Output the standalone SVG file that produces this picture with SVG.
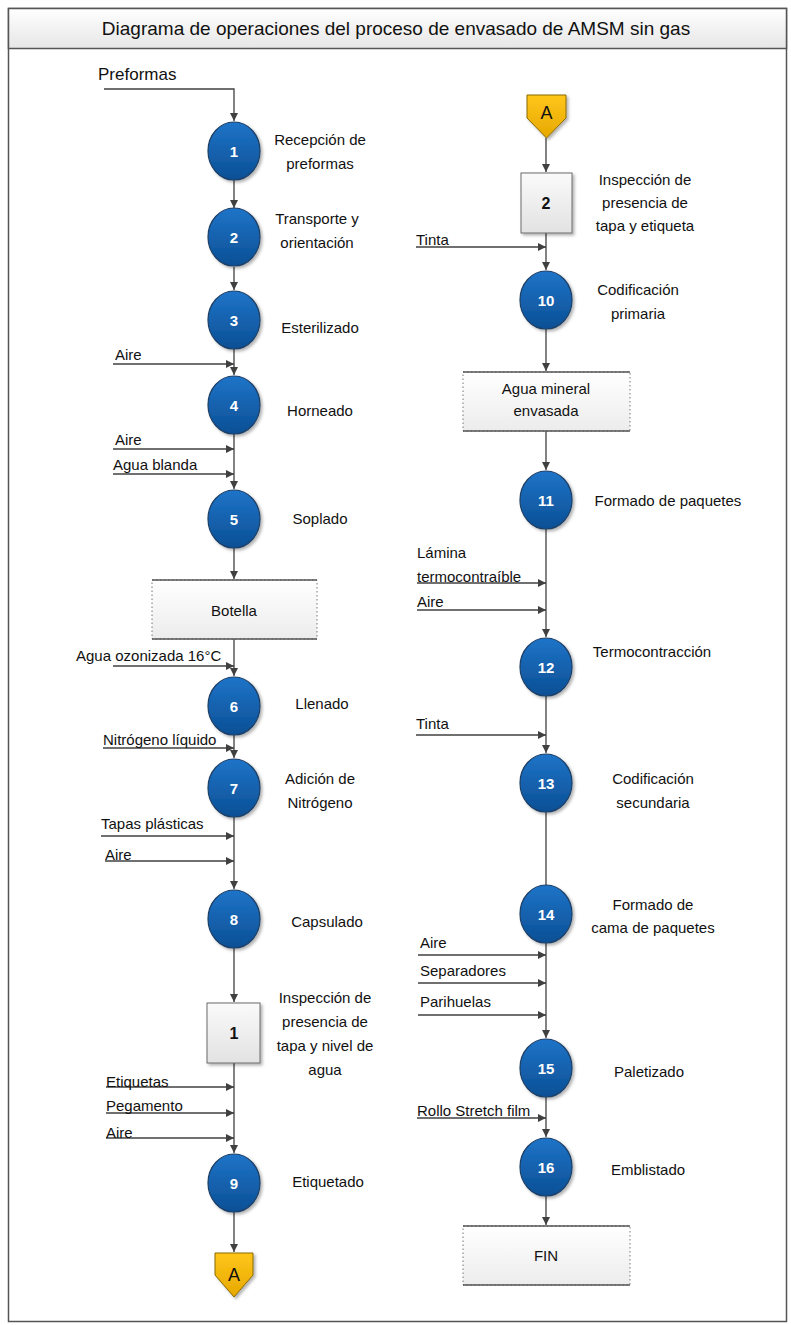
<svg xmlns="http://www.w3.org/2000/svg" width="791" height="1325" viewBox="0 0 791 1325">
<style>
  text { font-family: "Liberation Sans", Arial, sans-serif; fill: #111; }
  .lbl { font-size: 15px; text-anchor: middle; }
  .in { font-size: 15px; }
  .num { font-size: 15px; font-weight: bold; fill: #fff; text-anchor: middle; }
  .inum { font-size: 16px; font-weight: bold; text-anchor: middle; }
  .ln { stroke: #404040; stroke-width: 1.3; fill: none; }
  .arr { marker-end: url(#ah); }
  .op { fill: url(#blue); stroke: #1c3f66; stroke-width: 1.2; filter: url(#sh); }
  .insp { fill: url(#grey); stroke: #6a6a6a; stroke-width: 1; filter: url(#sh); }
  .data { fill: url(#grey2); stroke: #777; stroke-width: 1; stroke-dasharray: 1.5 2.5; }
  .edge { stroke: #555; stroke-width: 1.3; }
  .conn { fill: url(#gold); stroke: #8a6a00; stroke-width: 1; filter: url(#sh); }
</style>
<defs>
  <marker id="ah" viewBox="0 0 10 10" refX="10" refY="5" markerWidth="8" markerHeight="8" markerUnits="userSpaceOnUse" orient="auto">
    <path d="M0,0 L10,5 L0,10 z" fill="#404040"/>
  </marker>
  <linearGradient id="blue" x1="0" y1="0" x2="0" y2="1">
    <stop offset="0" stop-color="#1f74c8"/>
    <stop offset="1" stop-color="#0b4f95"/>
  </linearGradient>
  <linearGradient id="grey" x1="0" y1="0" x2="0" y2="1">
    <stop offset="0" stop-color="#fafafa"/>
    <stop offset="1" stop-color="#e2e2e2"/>
  </linearGradient>
  <linearGradient id="grey2" x1="0" y1="0" x2="0" y2="1">
    <stop offset="0" stop-color="#ffffff"/>
    <stop offset="1" stop-color="#ececec"/>
  </linearGradient>
  <linearGradient id="gold" x1="0" y1="0" x2="0" y2="1">
    <stop offset="0" stop-color="#ffc61a"/>
    <stop offset="1" stop-color="#e6a800"/>
  </linearGradient>
  <linearGradient id="title" x1="0" y1="0" x2="0" y2="1">
    <stop offset="0" stop-color="#ffffff"/>
    <stop offset="1" stop-color="#e6e6e6"/>
  </linearGradient>
  <filter id="sh" x="-20%" y="-20%" width="150%" height="150%">
    <feDropShadow dx="2" dy="2" stdDeviation="1.5" flood-color="#000" flood-opacity="0.3"/>
  </filter>
</defs>

<!-- page frame and title -->
<rect x="0" y="0" width="791" height="1325" fill="#fff"/>
<rect x="8.5" y="8.5" width="778" height="1313" fill="#fff" stroke="#555" stroke-width="1.5"/>
<rect x="8.5" y="8.5" width="778" height="40" fill="url(#title)" stroke="#555" stroke-width="1.5"/>
<text x="396" y="35" text-anchor="middle" font-size="19">Diagrama de operaciones del proceso de envasado de AMSM sin gas</text>

<!-- connectors -->
<g id="connectors">
  <path class="ln arr" d="M104,89 H234 V121"/>
  <line class="ln arr" x1="234" y1="180" x2="234" y2="208"/>
  <line class="ln arr" x1="234" y1="267" x2="234" y2="290"/>
  <line class="ln arr" x1="234" y1="349" x2="234" y2="375"/>
  <line class="ln arr" x1="234" y1="434" x2="234" y2="489"/>
  <line class="ln arr" x1="234" y1="548" x2="234" y2="579"/>
  <line class="ln arr" x1="234" y1="639" x2="234" y2="676"/>
  <line class="ln arr" x1="234" y1="735" x2="234" y2="758"/>
  <line class="ln arr" x1="234" y1="817" x2="234" y2="889"/>
  <line class="ln arr" x1="234" y1="948" x2="234" y2="1002"/>
  <line class="ln arr" x1="234" y1="1063" x2="234" y2="1153"/>
  <line class="ln arr" x1="234" y1="1212" x2="234" y2="1252"/>
  <line class="ln arr" x1="113" y1="364" x2="234" y2="364"/>
  <line class="ln arr" x1="113" y1="449" x2="234" y2="449"/>
  <line class="ln arr" x1="113" y1="474" x2="234" y2="474"/>
  <line class="ln arr" x1="113" y1="666" x2="234" y2="666"/>
  <line class="ln arr" x1="103" y1="748" x2="234" y2="748"/>
  <line class="ln arr" x1="101" y1="836" x2="234" y2="836"/>
  <line class="ln arr" x1="105" y1="861" x2="234" y2="861"/>
  <line class="ln arr" x1="106" y1="1087" x2="234" y2="1087"/>
  <line class="ln arr" x1="106" y1="1113" x2="234" y2="1113"/>
  <line class="ln arr" x1="106" y1="1138" x2="234" y2="1138"/>

  <line class="ln arr" x1="546" y1="138" x2="546" y2="172"/>
  <line class="ln arr" x1="546" y1="233" x2="546" y2="270"/>
  <line class="ln arr" x1="546" y1="329" x2="546" y2="371"/>
  <line class="ln arr" x1="546" y1="431" x2="546" y2="470"/>
  <line class="ln arr" x1="546" y1="529" x2="546" y2="637"/>
  <line class="ln arr" x1="546" y1="696" x2="546" y2="753"/>
  <line class="ln" x1="546" y1="812" x2="546" y2="885"/>
  <line class="ln arr" x1="546" y1="943" x2="546" y2="1038"/>
  <line class="ln arr" x1="546" y1="1097" x2="546" y2="1137"/>
  <line class="ln arr" x1="546" y1="1196" x2="546" y2="1225"/>
  <line class="ln arr" x1="416" y1="247" x2="546" y2="247"/>
  <line class="ln arr" x1="417" y1="583" x2="546" y2="583"/>
  <line class="ln arr" x1="417" y1="610" x2="546" y2="610"/>
  <line class="ln arr" x1="416" y1="735" x2="546" y2="735"/>
  <line class="ln arr" x1="418" y1="955" x2="546" y2="955"/>
  <line class="ln arr" x1="418" y1="983" x2="546" y2="983"/>
  <line class="ln arr" x1="418" y1="1015" x2="546" y2="1015"/>
  <line class="ln arr" x1="417" y1="1118" x2="546" y2="1118"/>
</g>

<!-- input labels -->
<g id="inputs">
  <text x="98" y="80" font-size="17">Preformas</text>
  <text class="in" x="115" y="360">Aire</text>
  <text class="in" x="115" y="445">Aire</text>
  <text class="in" x="113" y="470">Agua blanda</text>
  <text class="in" x="76" y="661">Agua ozonizada 16°C</text>
  <text class="in" x="103" y="745">Nitrógeno líquido</text>
  <text class="in" x="101" y="829">Tapas plásticas</text>
  <text class="in" x="105" y="860">Aire</text>
  <text class="in" x="106" y="1087">Etiquetas</text>
  <text class="in" x="106" y="1111">Pegamento</text>
  <text class="in" x="106" y="1138">Aire</text>
  <text class="in" x="416" y="245">Tinta</text>
  <text class="in" x="417" y="558">Lámina</text>
  <text class="in" x="417" y="582">termocontraíble</text>
  <text class="in" x="417" y="607">Aire</text>
  <text class="in" x="416" y="729">Tinta</text>
  <text class="in" x="420" y="948">Aire</text>
  <text class="in" x="420" y="976">Separadores</text>
  <text class="in" x="420" y="1007">Parihuelas</text>
  <text class="in" x="417" y="1116">Rollo Stretch film</text>
</g>

<!-- left column operations -->
<g id="op1"><ellipse class="op" cx="234" cy="151" rx="26" ry="29"/><text class="num" x="234" y="157">1</text>
  <text class="lbl" x="320" y="145">Recepción de</text><text class="lbl" x="320" y="169">preformas</text></g>
<g id="op2"><ellipse class="op" cx="234" cy="237" rx="26" ry="29"/><text class="num" x="234" y="243">2</text>
  <text class="lbl" x="317" y="224">Transporte y</text><text class="lbl" x="317" y="248">orientación</text></g>
<g id="op3"><ellipse class="op" cx="234" cy="320" rx="26" ry="29"/><text class="num" x="234" y="326">3</text>
  <text class="lbl" x="320" y="333">Esterilizado</text></g>
<g id="op4"><ellipse class="op" cx="234" cy="405" rx="26" ry="29"/><text class="num" x="234" y="411">4</text>
  <text class="lbl" x="320" y="416">Horneado</text></g>
<g id="op5"><ellipse class="op" cx="234" cy="519" rx="26" ry="29"/><text class="num" x="234" y="525">5</text>
  <text class="lbl" x="320" y="524">Soplado</text></g>
<g id="botella"><rect class="data" x="152" y="580" width="165" height="59"/>
  <line class="edge" x1="152" y1="580" x2="317" y2="580"/><line class="edge" x1="152" y1="639" x2="317" y2="639"/>
  <text class="lbl" x="234" y="616">Botella</text></g>
<g id="op6"><ellipse class="op" cx="234" cy="706" rx="26" ry="29"/><text class="num" x="234" y="712">6</text>
  <text class="lbl" x="322" y="709">Llenado</text></g>
<g id="op7"><ellipse class="op" cx="234" cy="788" rx="26" ry="29"/><text class="num" x="234" y="794">7</text>
  <text class="lbl" x="320" y="784">Adición de</text><text class="lbl" x="320" y="808">Nitrógeno</text></g>
<g id="op8"><ellipse class="op" cx="234" cy="919" rx="26" ry="29"/><text class="num" x="234" y="925">8</text>
  <text class="lbl" x="327" y="927">Capsulado</text></g>
<g id="insp1"><rect class="insp" x="207" y="1003" width="53" height="60"/><text class="inum" x="234" y="1039">1</text>
  <text class="lbl" x="325" y="1003">Inspección de</text><text class="lbl" x="325" y="1027">presencia de</text>
  <text class="lbl" x="325" y="1051">tapa y nivel de</text><text class="lbl" x="325" y="1075">agua</text></g>
<g id="op9"><ellipse class="op" cx="234" cy="1183" rx="26" ry="29"/><text class="num" x="234" y="1189">9</text>
  <text class="lbl" x="328" y="1187">Etiquetado</text></g>
<g id="connA1"><path class="conn" d="M215,1253 H253 V1275 L234,1297 L215,1275 Z"/><text x="234" y="1281" font-size="18" text-anchor="middle">A</text></g>

<!-- right column operations -->
<g id="connA2"><path class="conn" d="M527,95 H566 V118 L546.5,138 L527,118 Z"/><text x="546.5" y="119" font-size="18" text-anchor="middle">A</text></g>
<g id="insp2"><rect class="insp" x="521" y="173" width="51" height="60"/><text class="inum" x="546" y="209">2</text>
  <text class="lbl" x="645" y="185">Inspección de</text><text class="lbl" x="645" y="208">presencia de</text>
  <text class="lbl" x="645" y="231">tapa y etiqueta</text></g>
<g id="op10"><ellipse class="op" cx="546" cy="300" rx="26" ry="29"/><text class="num" x="546" y="306">10</text>
  <text class="lbl" x="638" y="295">Codificación</text><text class="lbl" x="638" y="319">primaria</text></g>
<g id="agua"><rect class="data" x="463" y="372" width="167" height="59"/>
  <line class="edge" x1="463" y1="372" x2="630" y2="372"/><line class="edge" x1="463" y1="431" x2="630" y2="431"/>
  <text class="lbl" x="546" y="394">Agua mineral</text><text class="lbl" x="546" y="416">envasada</text></g>
<g id="op11"><ellipse class="op" cx="546" cy="500" rx="26" ry="29"/><text class="num" x="546" y="506">11</text>
  <text class="lbl" x="668" y="506">Formado de paquetes</text></g>
<g id="op12"><ellipse class="op" cx="546" cy="667" rx="26" ry="29"/><text class="num" x="546" y="673">12</text>
  <text class="lbl" x="652" y="657">Termocontracción</text></g>
<g id="op13"><ellipse class="op" cx="546" cy="783" rx="26" ry="29"/><text class="num" x="546" y="789">13</text>
  <text class="lbl" x="653" y="784">Codificación</text><text class="lbl" x="653" y="808">secundaria</text></g>
<g id="op14"><ellipse class="op" cx="546" cy="914" rx="26" ry="29"/><text class="num" x="546" y="920">14</text>
  <text class="lbl" x="653" y="910">Formado de</text><text class="lbl" x="653" y="933">cama de paquetes</text></g>
<g id="op15"><ellipse class="op" cx="546" cy="1068" rx="26" ry="29"/><text class="num" x="546" y="1074">15</text>
  <text class="lbl" x="649" y="1077">Paletizado</text></g>
<g id="op16"><ellipse class="op" cx="546" cy="1167" rx="26" ry="29"/><text class="num" x="546" y="1173">16</text>
  <text class="lbl" x="648" y="1175">Emblistado</text></g>
<g id="fin"><rect class="data" x="463" y="1226" width="167" height="59"/>
  <line class="edge" x1="463" y1="1226" x2="630" y2="1226"/><line class="edge" x1="463" y1="1285" x2="630" y2="1285"/>
  <text class="lbl" x="546" y="1261">FIN</text></g>
</svg>
